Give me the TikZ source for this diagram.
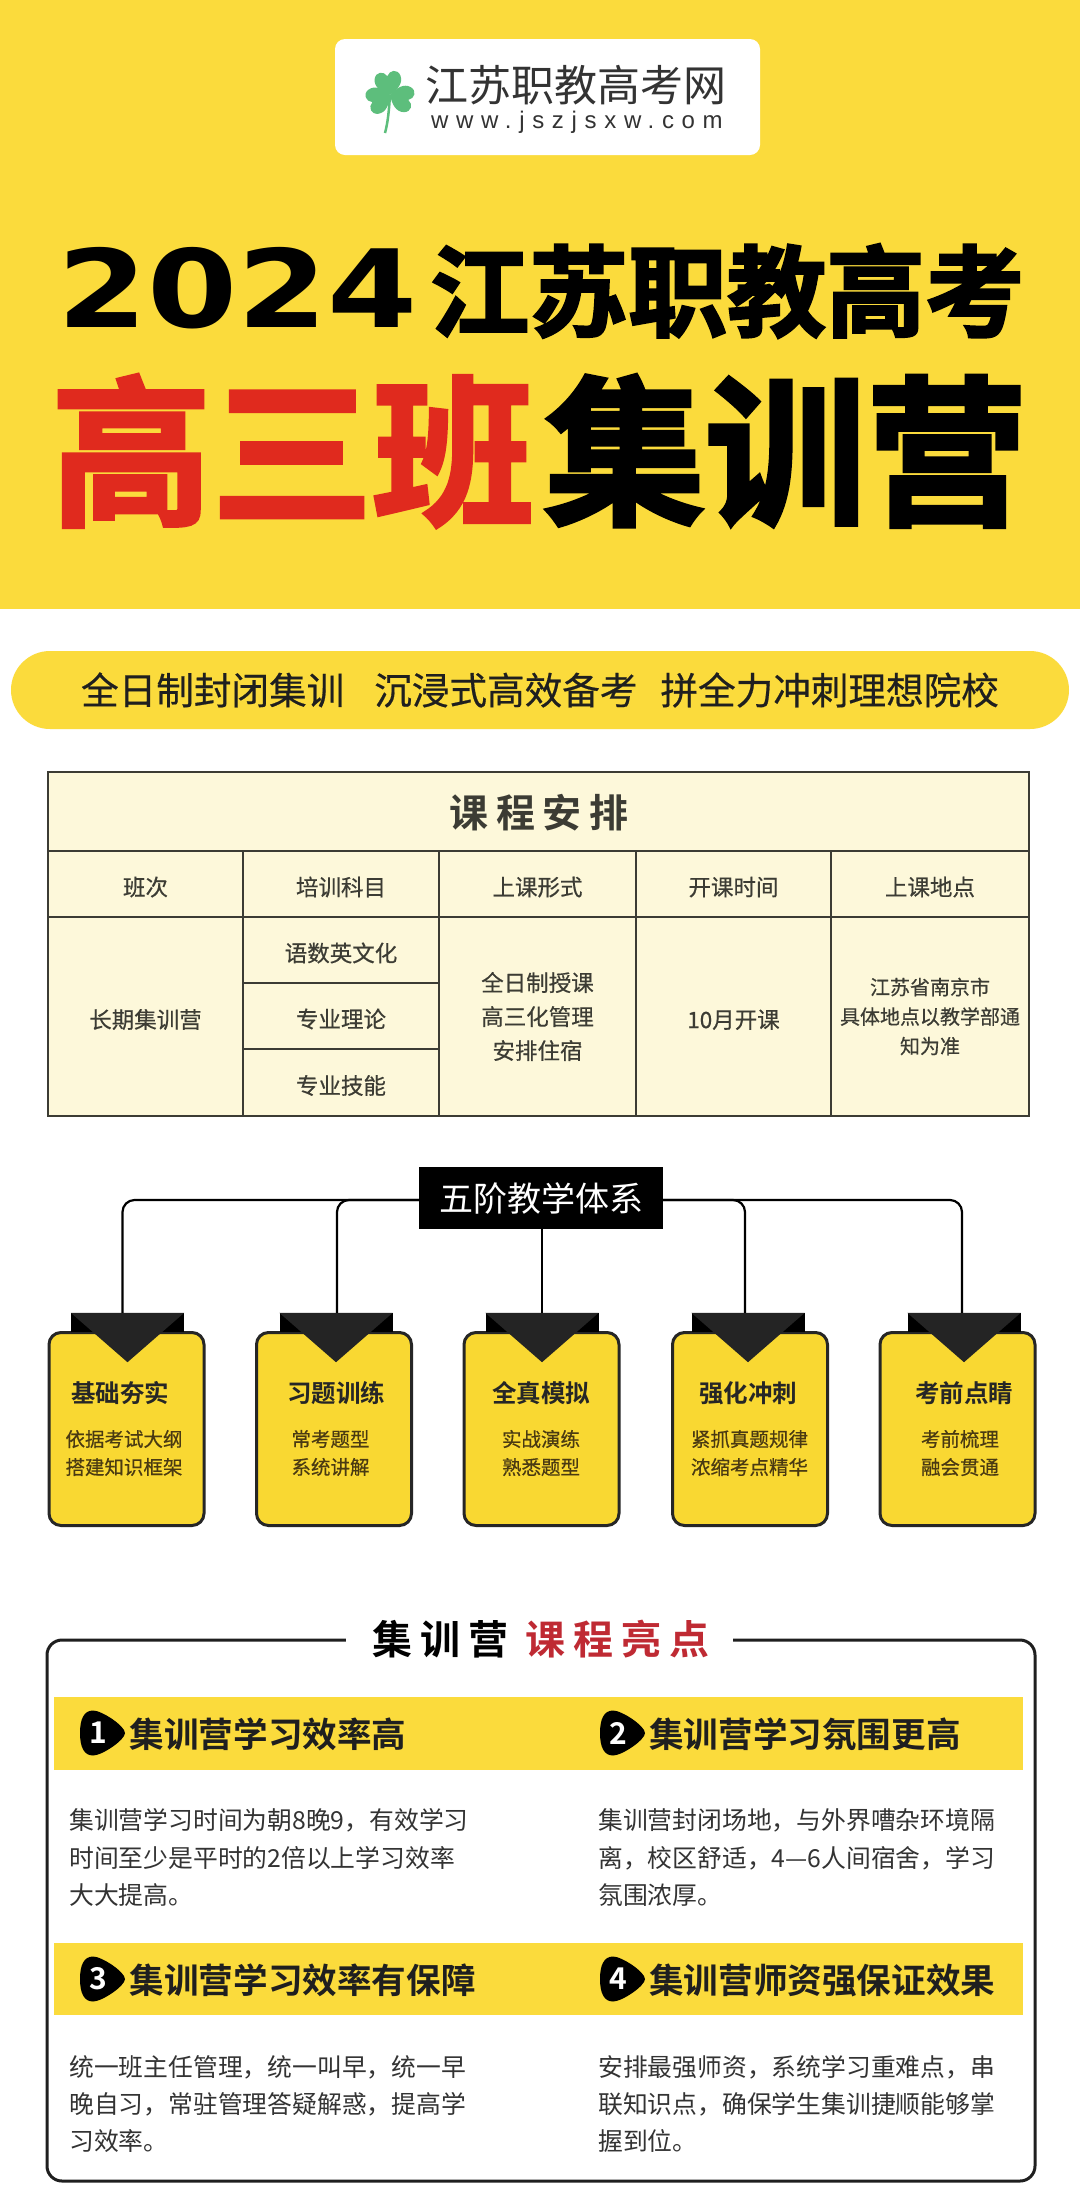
\documentclass[tikz,border=0pt]{standalone}
\usepackage{fontspec}
\usetikzlibrary{positioning}
\setmainfont{Noto Sans CJK SC}[BoldFont=* Bold]
\newfontfamily\heavyfont{Noto Sans CJK SC Bold}[FakeBold=2.5]
\newfontfamily\mediumfont{Noto Sans CJK SC}[FakeBold=0.5]
\newfontfamily\digitfont{DejaVu Sans Bold}[FakeStretch=1.2]
\newfontfamily\urlfont{Liberation Sans}[LetterSpace=32]
\newfontfamily\spacedfont{Noto Sans CJK SC Bold}[LetterSpace=20]
\definecolor{headyellow}{HTML}{FBDB3C}
\definecolor{cardyellow}{HTML}{F9D832}
\definecolor{titlered}{HTML}{E02A1E}
\definecolor{darkred}{HTML}{BF2A33}
\definecolor{cream}{HTML}{FDF8DA}
\definecolor{gridline}{HTML}{3C3C34}
\definecolor{leafgreen}{HTML}{5DBE7C}
\definecolor{bodygray}{HTML}{333333}
\definecolor{subbrown}{HTML}{4A3A12}
\newcommand{\leafpath}{(0,0) .. controls (-8,4) and (-15,10) .. (-13,18) .. controls (-11,25) and (-3,25) .. (0,19) .. controls (3,25) and (11,25) .. (13,18) .. controls (15,10) and (8,4) .. (0,0) -- cycle}
\newcommand{\badgepath}{(13,22.5) .. controls (22,22.5) and (45,7) .. (45,0) .. controls (45,-7) and (22,-22.5) .. (13,-22.5) .. controls (4,-22.5) and (0,-14) .. (0,0) .. controls (0,14) and (4,22.5) .. (13,22.5) -- cycle}
\tikzset{
  cell/.style={draw=gridline, line width=2pt, fill=cream, align=center, text=gridline, font=\mediumfont\fontsize{22.5}{34}\selectfont},
  onecell/.style={cell, text height=25pt},
  card/.style={draw=black!85, line width=3pt, fill=cardyellow, rounded corners=12pt, minimum width=155, minimum height=193},
  tab/.style={fill=black, minimum width=113, minimum height=19},
  notch/.style={fill=black!86},
  cardhead/.style={font=\fontsize{24.5}{30}\selectfont\bfseries, text=black!85},
  cardsub/.style={font=\mediumfont\fontsize{19.5}{28}\selectfont, text=subbrown, align=center},
  link/.style={black, line width=2.2pt, rounded corners=12pt},
  band/.style={fill=headyellow, minimum width=969},
  badgenum/.style={text=white, font=\fontsize{30}{32}\selectfont\bfseries},
  pointhead/.style={anchor=west, text=black!88, font=\fontsize{34.6}{40}\selectfont\bfseries},
  pointbody/.style={anchor=west, align=left, text=bodygray, font=\fontsize{24.8}{37.2}\selectfont}
}
\begin{document}
\begin{tikzpicture}[x=1pt,y=1pt]
    \tikzstyle{every node}+=[inner sep=0pt]
    \useasboundingbox (0,0) rectangle (1080,-2204);
    \fill [white] (0,0) rectangle (1080,-2204);
    \fill [headyellow] (0,0) rectangle (1080,-609);
    \node (logo) [fill=white, rounded corners=10pt, minimum width=425, minimum height=116] at (547.5,-97) {};
    \fill [leafgreen] [shift={(390,-95)}, rotate=8] \leafpath;
    \fill [leafgreen] [shift={(390,-95)}, rotate=112] \leafpath;
    \fill [leafgreen] [shift={(390,-95)}, rotate=-105] \leafpath;
    \draw [leafgreen, line width=2.5pt] (390,-95) .. controls (389,-110) and (388,-122) .. (385,-133);
    \node (logotext) [text=black!80, font=\fontsize{43}{48}\selectfont] at (576,-85) {江苏职教高考网};
    \node (logourl) [text=black!80, font=\urlfont\fontsize{24}{28}\selectfont] at (577,-122) {www.jszjsxw.com};

    \node (year) [anchor=base west, font=\digitfont\fontsize{108}{120}\selectfont] at (57,-327) {2024};
    \node (examtitle) [anchor=west, font=\heavyfont\fontsize{99}{110}\selectfont] at (430,-291) {江苏职教高考};
    \node (classtitle) [anchor=east, text=titlered, font=\heavyfont\fontsize{161}{170}\selectfont] at (534,-451) {高三班};
    \node (camptitle) [anchor=west, font=\heavyfont\fontsize{161}{170}\selectfont] at (544,-451) {集训营};

    \node (slogan) [fill=headyellow, rounded corners=39pt, minimum width=1058, minimum height=78, text=black!88, font=\mediumfont\fontsize{37.6}{44}\selectfont] at (540,-690) {全日制封闭集训\hspace{30pt}沉浸式高效备考\hspace{23pt}拼全力冲刺理想院校};

    \node (plantop) [cell, minimum width=981, minimum height=79] at (538.5,-811.5) {};
    \node (plantitle) [text=gridline, font=\spacedfont\fontsize{39}{44}\selectfont] at (539,-813) {课程安排};
    \node (head1) [onecell, minimum width=195, minimum height=66] at (145.5,-884) {班次};
    \node (head2) [onecell, minimum width=196, minimum height=66] at (341,-884) {培训科目};
    \node (head3) [onecell, minimum width=197, minimum height=66] at (537.5,-884) {上课形式};
    \node (head4) [onecell, minimum width=195, minimum height=66] at (733.5,-884) {开课时间};
    \node (head5) [onecell, minimum width=198, minimum height=66] at (930,-884) {上课地点};
    \node (term) [onecell, minimum width=195, minimum height=199] at (145.5,-1016.5) {长期集训营};
    \node (subject1) [onecell, minimum width=196, minimum height=66] at (341,-950) {语数英文化};
    \node (subject2) [onecell, minimum width=196, minimum height=66] at (341,-1016) {专业理论};
    \node (subject3) [onecell, minimum width=196, minimum height=67] at (341,-1082.5) {专业技能};
    \node (form) [cell, minimum width=197, minimum height=199] at (537.5,-1016.5) {全日制授课\\高三化管理\\安排住宿};
    \node (start) [onecell, minimum width=195, minimum height=199] at (733.5,-1016.5) {10月开课};
    \node (place) [cell, minimum width=198, minimum height=199, font=\mediumfont\fontsize{20}{29.5}\selectfont] at (930,-1016.5) {江苏省南京市\\具体地点以教学部通\\知为准};

    \node (system) [fill=black, text=white, minimum width=244, minimum height=62, font=\fontsize{34}{40}\selectfont] at (541,-1198) {五阶教学体系};

    \node (card1) [card] at (126.5,-1429) {};
    \node (card2) [card] at (334,-1429) {};
    \node (card3) [card] at (541.5,-1429) {};
    \node (card4) [card] at (750,-1429) {};
    \node (card5) [card] at (957.5,-1429) {};
    \node (tab1) [tab] at (127.5,-1322.5) {};
    \node (tab2) [tab] at (336,-1322.5) {};
    \node (tab3) [tab] at (542,-1322.5) {};
    \node (tab4) [tab] at (748,-1322.5) {};
    \node (tab5) [tab] at (964,-1322.5) {};
    \fill [notch] (tab1.north west) -- (tab1.north east) -- ([yshift=-30pt]tab1.south) -- cycle;
    \fill [notch] (tab2.north west) -- (tab2.north east) -- ([yshift=-30pt]tab2.south) -- cycle;
    \fill [notch] (tab3.north west) -- (tab3.north east) -- ([yshift=-30pt]tab3.south) -- cycle;
    \fill [notch] (tab4.north west) -- (tab4.north east) -- ([yshift=-30pt]tab4.south) -- cycle;
    \fill [notch] (tab5.north west) -- (tab5.north east) -- ([yshift=-30pt]tab5.south) -- cycle;
    \draw [link] ([yshift=-2pt]system.west) -| ([xshift=-5pt]tab1.north);
    \draw [link] ([yshift=-2pt]system.west) -| ([xshift=1pt]tab2.north);
    \draw [link] (system.south -| tab3.north) -- (tab3.north);
    \draw [link] ([yshift=-2pt]system.east) -| ([xshift=-3pt]tab4.north);
    \draw [link] ([yshift=-2pt]system.east) -| ([xshift=-2pt]tab5.north);

    \node (stage1) [cardhead] at (120,-1393) {基础夯实};
    \node (stage2) [cardhead] at (336,-1393) {习题训练};
    \node (stage3) [cardhead] at (541,-1393) {全真模拟};
    \node (stage4) [cardhead] at (748,-1393) {强化冲刺};
    \node (stage5) [cardhead] at (964,-1393) {考前点睛};
    \node (detail1) [cardsub] at (124,-1453) {依据考试大纲\\搭建知识框架};
    \node (detail2) [cardsub] at (330.5,-1453) {常考题型\\系统讲解};
    \node (detail3) [cardsub] at (541,-1453) {实战演练\\熟悉题型};
    \node (detail4) [cardsub] at (749.5,-1453) {紧抓真题规律\\浓缩考点精华};
    \node (detail5) [cardsub] at (960,-1453) {考前梳理\\融会贯通};

    \node (frame) [draw=black!88, line width=3pt, rounded corners=15pt, minimum width=988, minimum height=541] at (541,-1910.5) {};
    \node (framegap) [fill=white, minimum width=387, minimum height=60] at (539.5,-1639) {};
    \node (frametitle) [font=\spacedfont\fontsize{40}{44}\selectfont] at (540.5,-1639) {集训营\hspace{17pt}\textcolor{darkred}{课程亮点}};

    \node (band1) [band, minimum height=73] at (538.5,-1733) {};
    \node (band2) [band, minimum height=72] at (538.5,-1979) {};
    \fill [shift={(80,-1733)}] \badgepath;
    \fill [shift={(600,-1733)}] \badgepath;
    \fill [shift={(80,-1979)}] \badgepath;
    \fill [shift={(600,-1979)}] \badgepath;
    \node (num1) [badgenum] at (98,-1733) {1};
    \node (num2) [badgenum] at (618,-1733) {2};
    \node (num3) [badgenum] at (98,-1979) {3};
    \node (num4) [badgenum] at (618,-1979) {4};
    \node (point1) [pointhead] at (129.5,-1734) {集训营学习效率高};
    \node (point2) [pointhead] at (649,-1734) {集训营学习氛围更高};
    \node (point3) [pointhead] at (129.5,-1980) {集训营学习效率有保障};
    \node (point4) [pointhead] at (649,-1980) {集训营师资强保证效果};
    \node (text1) [pointbody] at (69,-1857.5) {集训营学习时间为朝8晚9，有效学习\\时间至少是平时的2倍以上学习效率\\大大提高。};
    \node (text2) [pointbody] at (598,-1857.5) {集训营封闭场地，与外界嘈杂环境隔\\离，校区舒适，4—6人间宿舍，学习\\氛围浓厚。};
    \node (text3) [pointbody] at (69,-2104) {统一班主任管理，统一叫早，统一早\\晚自习，常驻管理答疑解惑，提高学\\习效率。};
    \node (text4) [pointbody] at (598,-2104) {安排最强师资，系统学习重难点，串\\联知识点，确保学生集训捷顺能够掌\\握到位。};
\end{tikzpicture}
\end{document}
